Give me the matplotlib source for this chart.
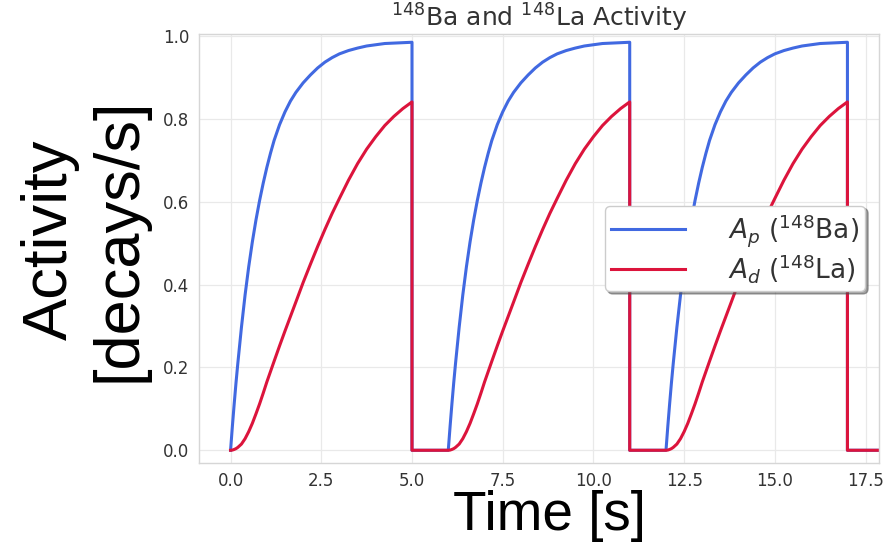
import matplotlib
matplotlib.use('Agg')
import matplotlib.pyplot as plt

# one irradiation cycle
cycle_t = [0, 0.05, 0.1, 0.15, 0.2, 0.3, 0.4, 0.5, 0.6, 0.7, 0.8, 0.9, 1.0, 1.1, 1.2,
           1.35, 1.5, 1.65, 1.8, 2.0, 2.2, 2.4, 2.6, 2.8, 3.0, 3.25, 3.5, 3.75,
           4.0, 4.25, 4.5, 4.75, 5.0]
ba_cycle = [0, 0.058, 0.112, 0.163, 0.21, 0.297, 0.375, 0.443, 0.503, 0.556, 0.603, 0.645,
            0.683, 0.717, 0.748, 0.786, 0.817, 0.843, 0.864, 0.887, 0.906, 0.923, 0.937,
            0.948, 0.957, 0.965, 0.971, 0.976, 0.979, 0.982, 0.983, 0.984, 0.985]
la_cycle = [0, 0.0005, 0.002, 0.004, 0.007, 0.015, 0.028, 0.045, 0.065, 0.088, 0.112,
            0.138, 0.165, 0.19, 0.215, 0.252, 0.288, 0.323, 0.358, 0.405, 0.449, 0.492,
            0.533, 0.572, 0.608, 0.652, 0.692, 0.727, 0.757, 0.784, 0.806, 0.825, 0.841]
cycle_starts = [0, 6, 12]
cycle_len = 5
t_end = 17.85

x_ticks = [0, 2.5, 5, 7.5, 10, 12.5, 15, 17.5]
y_ticks = [0, 0.2, 0.4, 0.6, 0.8, 1.0]

# build full time series: cycle, drop to zero, wait, next cycle
t_all, ba_all, la_all = [], [], []
for s in cycle_starts:
    t_all += [s + x for x in cycle_t] + [s + cycle_len]
    ba_all += ba_cycle + [0]
    la_all += la_cycle + [0]
t_all.append(t_end)
ba_all.append(0)
la_all.append(0)

fig = plt.figure(figsize=(8.86, 5.42), dpi=100)
ax = fig.add_axes([0.2246, 0.1463, 0.7675, 0.7910])

ax.plot(t_all, ba_all, color='#4169E1', lw=2.2, label=r'$A_p$ ($^{148}$Ba)')
ax.plot(t_all, la_all, color='#DC143C', lw=2.2, label=r'$A_d$ ($^{148}$La)')

ax.set_xlim(-0.87, 17.87)
ax.set_ylim(-0.03, 1.005)
ax.set_xticks(x_ticks)
ax.set_yticks(y_ticks)
ax.set_xticklabels(['%.1f' % v for v in x_ticks])
ax.set_yticklabels(['%.1f' % v for v in y_ticks])
ax.tick_params(length=0, labelsize=12, labelcolor='#333333', pad=7)
ax.grid(True, color='#e9e9e9', lw=0.9)
ax.set_axisbelow(True)
for sp in ax.spines.values():
    sp.set_color('#d6d6d6')
    sp.set_linewidth(1.0)

ax.set_title(r'$^{148}$Ba and $^{148}$La Activity', fontsize=18, color='#333333', pad=4)

leg = ax.legend(loc='center right', fontsize=19, handlelength=2.8, handletextpad=1.6,
                labelspacing=0.1, borderaxespad=0.52, framealpha=1, shadow=True,
                fancybox=True, edgecolor='#cccccc', borderpad=0.25)
for txt in leg.get_texts():
    txt.set_color('#333333')

fig.text(0.0954, 0.557, 'Activity\n[decays/s]', rotation=90, ha='center', va='center',
         fontsize=45.5, family=['Liberation Sans', 'DejaVu Sans'], linespacing=1.2)
fig.text(0.620, 0.048, 'Time [s]', ha='center', va='center',
         fontsize=39.5, family=['Liberation Sans', 'DejaVu Sans'])

fig.savefig('out.png', dpi=100)
